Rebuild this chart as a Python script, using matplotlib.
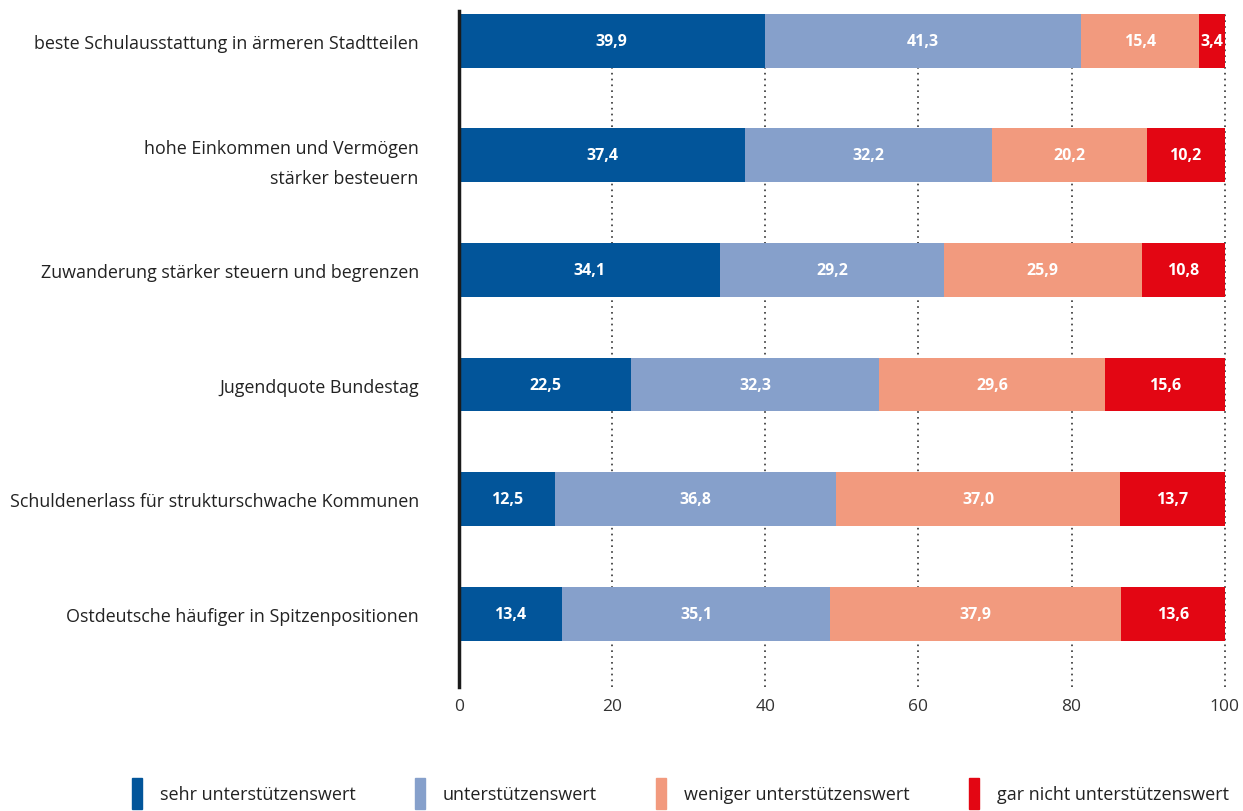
import matplotlib.pyplot as plt
from matplotlib.patches import Rectangle

plt.rcParams['font.family'] = ['Open Sans', 'DejaVu Sans']

# Zustimmung zu politischen Maßnahmen, Anteile in Prozent
categories = [
    "beste Schulausstattung in ärmeren Stadtteilen",
    "hohe Einkommen und Vermögen\nstärker besteuern",
    "Zuwanderung stärker steuern und begrenzen",
    "Jugendquote Bundestag",
    "Schuldenerlass für strukturschwache Kommunen",
    "Ostdeutsche häufiger in Spitzenpositionen",
]
sehr = [39.9, 37.4, 34.1, 22.5, 12.5, 13.4]
eher = [41.3, 32.2, 29.2, 32.3, 36.8, 35.1]
weniger = [15.4, 20.2, 25.9, 29.6, 37.0, 37.9]
gar_nicht = [3.4, 10.2, 10.8, 15.6, 13.7, 13.6]

series_names = ["sehr unterstützenswert", "unterstützenswert",
                "weniger unterstützenswert", "gar nicht unterstützenswert"]
colors = ["#02559A", "#86A0CB", "#F29A7E", "#E30613"]
xticks = [0, 20, 40, 60, 80, 100]

fig = plt.figure(figsize=(12.43, 8.12), dpi=100)
ax = fig.add_axes([0.3693, 0.1527, 0.6178, 0.8325])

y = list(range(len(categories)))
left = [0.0] * len(categories)
for values, color in zip([sehr, eher, weniger, gar_nicht], colors):
    ax.barh(y, values, left=left, height=0.47, color=color, zorder=3)
    for yi, (l, v) in enumerate(zip(left, values)):
        ax.text(l + v / 2, yi, f"{v:.1f}".replace(".", ","), ha="center", va="center",
                color="white", fontsize=11.5, fontweight="bold", zorder=4)
    left = [l + v for l, v in zip(left, values)]

ax.set_ylim(5.64, -0.26)
ax.set_xlim(0, 100.3)
ax.set_yticks(y)
ax.set_yticklabels(categories, fontsize=12.9, color="#222222", linespacing=1.85)
ax.tick_params(axis="y", length=0, pad=29)
ax.set_xticks(xticks)
ax.set_xticklabels([str(t) for t in xticks], fontsize=12.5, color="#333333")
ax.tick_params(axis="x", length=0, pad=8)

for t in xticks[1:]:
    ax.axvline(t, color="#333333", linestyle=(0, (1, 2.5)), linewidth=1.2, zorder=1)

for s in ["top", "right", "bottom"]:
    ax.spines[s].set_visible(False)
ax.spines["left"].set_linewidth(2.5)
ax.spines["left"].set_color("#1a1a1a")
ax.spines["left"].set_zorder(5)

# Legende unten
handles = [Rectangle((0, 0), 1, 1, color=c) for c in colors]
fig.legend(handles, series_names, loc="lower left", bbox_to_anchor=(0.093, -0.018),
           ncol=4, frameon=False, fontsize=13, handlelength=0.55, handleheight=2.3,
           handletextpad=1.0, columnspacing=3.28, labelcolor="#222222")

plt.savefig("out.png", dpi=100)
